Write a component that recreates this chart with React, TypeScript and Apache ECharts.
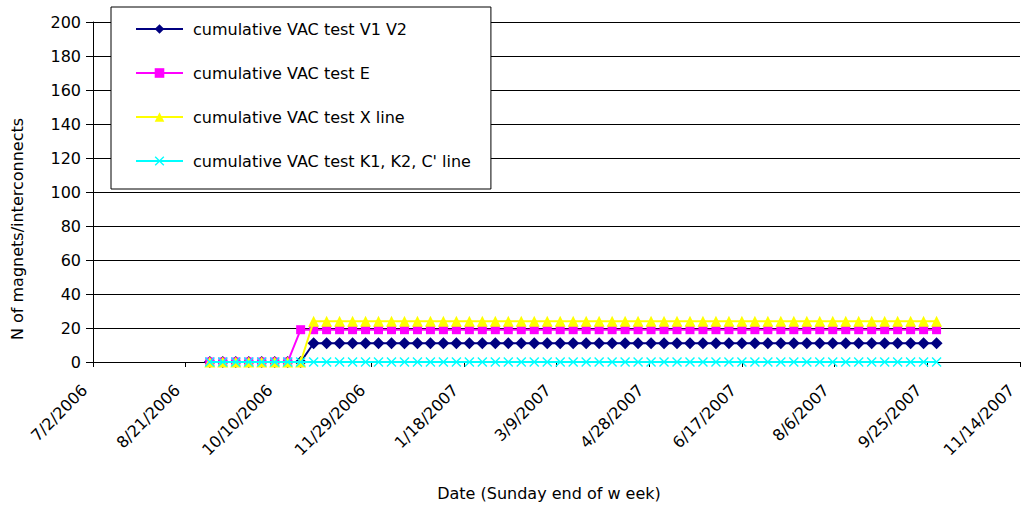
import React, { useEffect, useRef } from "react";
import * as echarts from "echarts";

// Axis origin (day 0 of the value axis) and tick labels every 50 days
const axisStart = "2006-07-02";
const xTickLabels = [
  "7/2/2006", "8/21/2006", "10/10/2006", "11/29/2006", "1/18/2007", "3/9/2007",
  "4/28/2007", "6/17/2007", "8/6/2007", "9/25/2007", "11/14/2007",
];
const yTicks = [0, 20, 40, 60, 80, 100, 120, 140, 160, 180, 200];

// Weekly data, Sunday end of week, first week ending 9/3/2006
const firstWeekEnding = "2006-09-03";

const seriesNames = [
  "cumulative VAC test V1 V2",
  "cumulative VAC test E",
  "cumulative VAC test X line",
  "cumulative VAC test K1, K2, C' line",
];

const v1v2 = [
  0, 0, 0, 0, 0, 0, 0, 0,
  11, 11, 11, 11, 11, 11, 11, 11, 11, 11,
  11, 11, 11, 11, 11, 11, 11, 11, 11, 11,
  11, 11, 11, 11, 11, 11, 11, 11, 11, 11,
  11, 11, 11, 11, 11, 11, 11, 11, 11, 11,
  11, 11, 11, 11, 11, 11, 11, 11, 11,
];
const testE = [
  0, 0, 0, 0, 0, 0, 0,
  19, 19, 19, 19, 19, 19, 19, 19, 19, 19,
  19, 19, 19, 19, 19, 19, 19, 19, 19, 19,
  19, 19, 19, 19, 19, 19, 19, 19, 19, 19,
  19, 19, 19, 19, 19, 19, 19, 19, 19, 19,
  19, 19, 19, 19, 19, 19, 19, 19, 19, 19,
];
const xLine = [
  0, 0, 0, 0, 0, 0, 0, 0,
  24, 24, 24, 24, 24, 24, 24, 24, 24, 24,
  24, 24, 24, 24, 24, 24, 24, 24, 24, 24,
  24, 24, 24, 24, 24, 24, 24, 24, 24, 24,
  24, 24, 24, 24, 24, 24, 24, 24, 24, 24,
  24, 24, 24, 24, 24, 24, 24, 24, 24,
];
const k1k2c = [
  0, 0, 0, 0, 0, 0, 0, 0, 0, 0,
  0, 0, 0, 0, 0, 0, 0, 0, 0, 0,
  0, 0, 0, 0, 0, 0, 0, 0, 0, 0,
  0, 0, 0, 0, 0, 0, 0, 0, 0, 0,
  0, 0, 0, 0, 0, 0, 0, 0, 0, 0,
  0, 0, 0, 0, 0, 0, 0,
];

const colors = ["#000080", "#FF00FF", "#FFFF00", "#00FFFF"];
const FONT = "DejaVu Sans";
const DAY = 86400000;

const crossPath =
  "path://M0,1 L1,0 L5,4 L9,0 L10,1 L6,5 L10,9 L9,10 L5,6 L1,10 L0,9 L4,5 Z";

export default function App() {
  const ref = useRef<HTMLDivElement>(null);

  useEffect(() => {
    if (!ref.current) return;
    const chart = echarts.init(ref.current, undefined, { renderer: "svg" });
    const origin = Date.parse(axisStart + "T00:00:00Z");
    const first = Date.parse(firstWeekEnding + "T00:00:00Z");
    const dayOf = (i: number) => (first - origin) / DAY + 7 * i;
    const toData = (vals: number[]) => vals.map((v, i) => [dayOf(i), v]);

    const symbols = ["diamond", "rect", "triangle", crossPath];
    const sizes = [12, 9, 11, 10];
    const datasets = [v1v2, testE, xLine, k1k2c];

    chart.setOption({
      animation: false,
      backgroundColor: "#ffffff",
      grid: { left: 93, right: 3, top: 22, bottom: 147, containLabel: false },
      legend: {
        orient: "vertical",
        left: 111,
        top: 7,
        padding: [14, 20, 20, 24],
        itemGap: 28,
        itemWidth: 47,
        itemHeight: 12,
        backgroundColor: "#ffffff",
        borderColor: "#000000",
        borderWidth: 1,
        textStyle: { fontFamily: FONT, fontSize: 16, color: "#000", padding: [0, 0, 0, 5] },
        data: seriesNames,
      },
      xAxis: {
        type: "value",
        min: 0,
        max: 500,
        interval: 50,
        splitLine: { show: false },
        axisLine: { lineStyle: { color: "#000", width: 1 } },
        axisTick: { length: 5, lineStyle: { color: "#000" } },
        axisLabel: {
          rotate: 45,
          margin: 17,
          padding: [0, 12, 0, 0],
          fontFamily: FONT,
          fontSize: 16,
          color: "#000",
          formatter: (v: number) => xTickLabels[Math.round(v / 50)] ?? "",
        },
      },
      yAxis: {
        type: "value",
        min: yTicks[0],
        max: yTicks[yTicks.length - 1],
        interval: yTicks[1] - yTicks[0],
        splitLine: { lineStyle: { color: "#000", width: 1 } },
        axisLine: { show: true, lineStyle: { color: "#000", width: 1 } },
        axisTick: { show: true, length: 7, lineStyle: { color: "#000" } },
        axisLabel: { margin: 12, fontFamily: FONT, fontSize: 16, color: "#000" },
      },
      graphic: [
        {
          type: "text",
          x: 17,
          y: 229,
          rotation: Math.PI / 2,
          style: {
            text: "N of magnets/interconnects",
            fontFamily: FONT,
            fontSize: 16,
            fill: "#000",
            textAlign: "center",
            textVerticalAlign: "middle",
          },
        },
        {
          type: "text",
          x: 549,
          y: 493,
          style: {
            text: "Date (Sunday end of w eek)",
            fontFamily: FONT,
            fontSize: 16,
            fill: "#000",
            textAlign: "center",
            textVerticalAlign: "middle",
          },
        },
      ],
      series: datasets.map((d, i) => ({
        name: seriesNames[i],
        type: "line",
        data: toData(d),
        symbol: symbols[i],
        symbolSize: sizes[i],
        showAllSymbol: true,
        clip: false,
        color: colors[i],
        itemStyle: { color: colors[i] },
        lineStyle: { color: colors[i], width: 2 },
        z: 3 + i,
      })),
    });
    return () => chart.dispose();
  }, []);

  return (
    <div
      ref={ref}
      style={{ position: "absolute", left: 0, top: 0, width: 1023, height: 509 }}
    />
  );
}
